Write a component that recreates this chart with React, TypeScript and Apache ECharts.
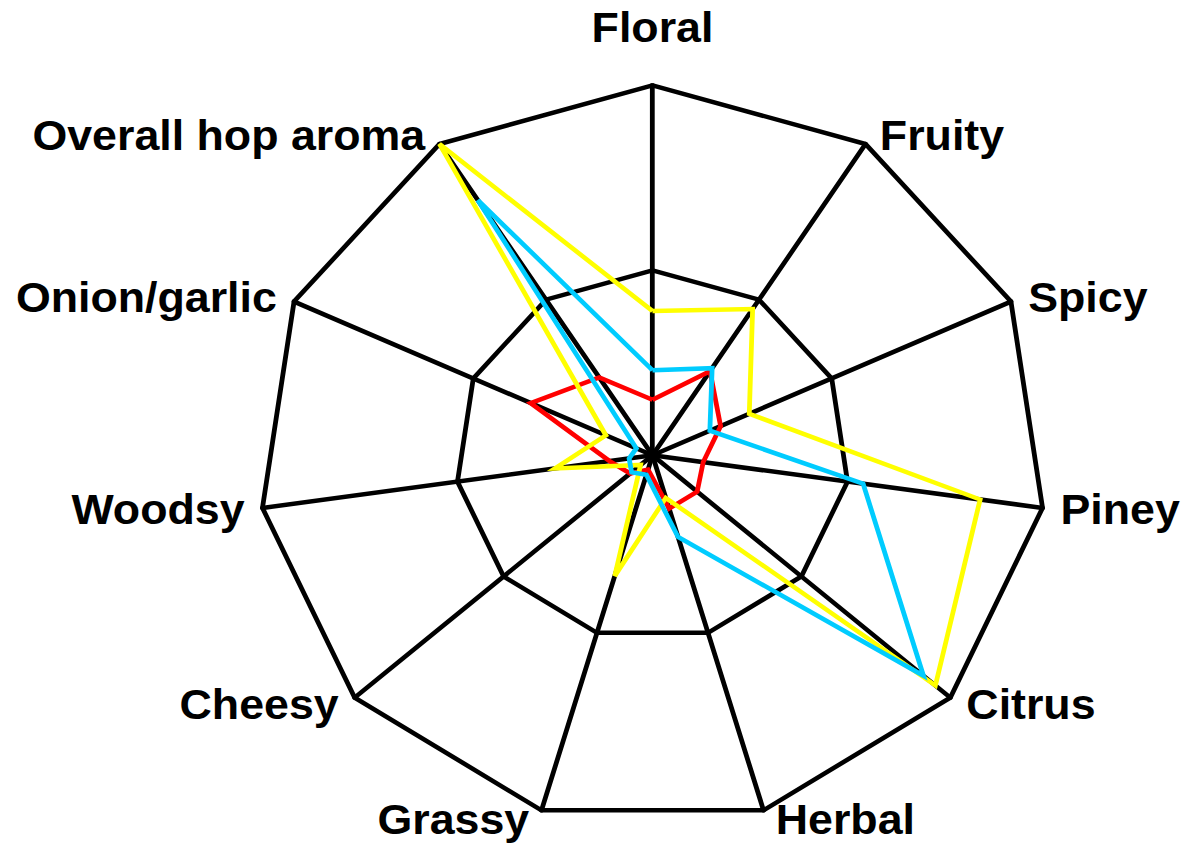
import React, { useEffect, useRef } from "react";
import * as echarts from "echarts";

// ---- data ----
const categories = [
  "Floral",
  "Fruity",
  "Spicy",
  "Piney",
  "Citrus",
  "Herbal",
  "Grassy",
  "Cheesy",
  "Woodsy",
  "Onion/garlic",
  "Overall hop aroma",
];
const redValues = [1.5, 2.7, 1.9, 1.3, 1.5, 1.5, 0.4, 0.75, 1.1, 3.4, 2.5];
const yellowValues = [3.9, 4.7, 2.7, 8.4, 9.5, 1.2, 3.4, 0.4, 2.5, 1.3, 10];
const cyanValues = [2.3, 2.8, 1.6, 5.4, 9.1, 2.3, 0.55, 0.7, 0.6, 0.45, 8.2];
const axisMin = 0;
const axisMax = 10;
const splitCount = 2;

// ---- layout ----
const PAGE_W = 1186;
const PAGE_H = 848;
const SX = 1.065; // horizontal stretch of the original picture
const CHART_W = PAGE_W / SX;
const CX_SCREEN = 652.5;
const CX = CX_SCREEN / SX;
const CY = 455.3;
const R = 370;

export default function App() {
  const ref = useRef<HTMLDivElement>(null);

  useEffect(() => {
    if (!ref.current) return;
    const chart = echarts.init(ref.current, undefined, { renderer: "svg" });
    const n = categories.length;
    // ECharts radar runs counter-clockwise; reorder so categories go clockwise
    const order = categories.map((_, i) => (i === 0 ? 0 : n - i));
    const indicator = order.map((i) => ({
      name: categories[i],
      min: axisMin,
      max: axisMax,
    }));
    const pick = (arr: number[]) => order.map((i) => arr[i]);

    const labels = categories.map((name, i) => {
      const th = (i * 2 * Math.PI) / n;
      const s = Math.sin(th);
      const c = Math.cos(th);
      const vx = CX_SCREEN + R * SX * s;
      const vy = CY - R * c;
      let x = vx;
      let y = vy;
      let align = "center";
      if (i === 0) {
        y = vy - 58;
      } else {
        const gap = 10 + 8 * Math.abs(s);
        y = vy - 10 * c;
        if (s > 0) {
          x = vx + gap;
          align = "left";
        } else {
          x = vx - gap;
          align = "right";
        }
      }
      return {
        type: "text",
        x: x / SX,
        y,
        silent: true,
        style: {
          text: name,
          fill: "#000000",
          fontSize: 42,
          fontWeight: "bold",
          fontFamily: '"Liberation Sans", Arial, sans-serif',
          align,
          verticalAlign: "middle",
        },
      };
    });

    const mk = (name: string, values: number[], color: string) => ({
      type: "radar",
      name,
      symbol: "none",
      silent: true,
      lineStyle: { color, width: 4.5, join: "miter" },
      itemStyle: { color },
      data: [{ name, value: pick(values) }],
    });

    chart.setOption({
      animation: false,
      backgroundColor: "#ffffff",
      radar: {
        center: [CX, CY],
        radius: R,
        startAngle: 90,
        splitNumber: splitCount,
        shape: "polygon",
        indicator,
        axisName: { show: false },
        axisLine: { lineStyle: { color: "#000000", width: 4.5 } },
        splitLine: { lineStyle: { color: "#000000", width: 4.5 } },
        splitArea: { show: false },
        axisTick: { show: false },
        axisLabel: { show: false },
      },
      series: [
        mk("Red", redValues, "#ff0000"),
        mk("Yellow", yellowValues, "#ffff00"),
        mk("Cyan", cyanValues, "#00ccff"),
      ],
      graphic: labels,
    });
    return () => chart.dispose();
  }, []);

  return (
    <div
      style={{
        position: "fixed",
        left: 0,
        top: 0,
        width: PAGE_W,
        height: PAGE_H,
        overflow: "hidden",
        background: "#ffffff",
      }}
    >
      <div
        ref={ref}
        style={{
          width: CHART_W,
          height: PAGE_H,
          transformOrigin: "0 0",
          transform: `scaleX(${SX})`,
        }}
      />
    </div>
  );
}
